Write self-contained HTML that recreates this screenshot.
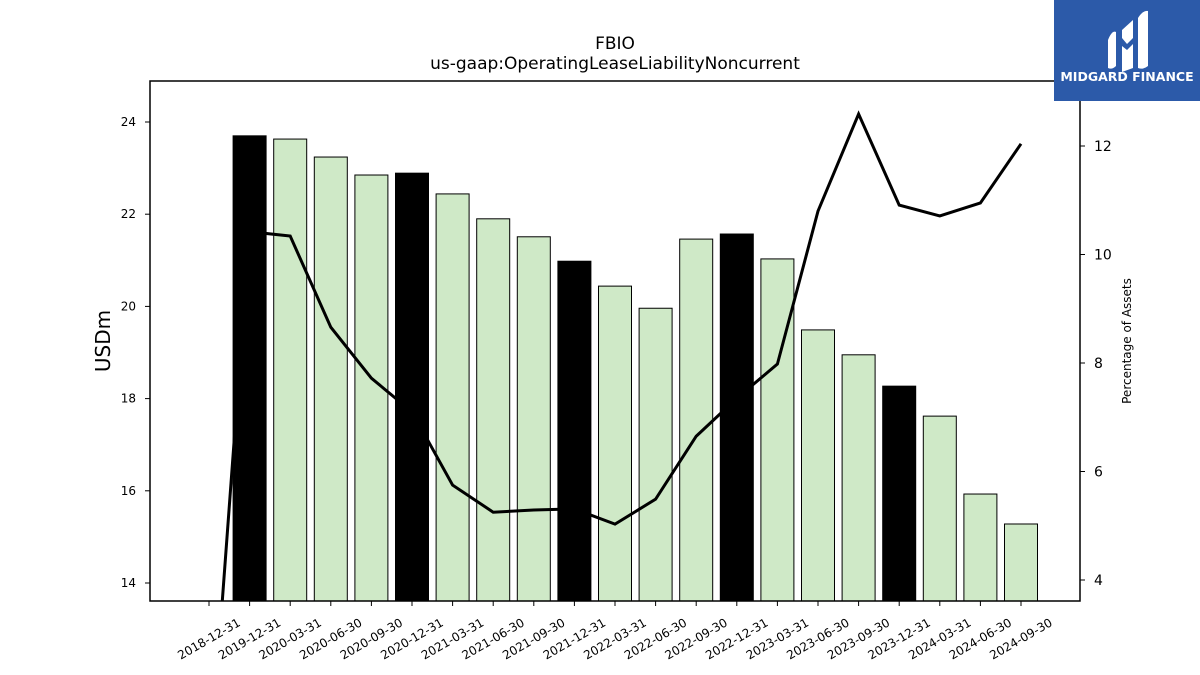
<!DOCTYPE html>
<html><head><meta charset="utf-8"><style>
html,body{margin:0;padding:0;background:#fff;overflow:hidden;width:1200px;height:675px;font-family:"Liberation Sans",sans-serif;}
svg{display:block;}
svg text{font-family:"DejaVu Sans","Liberation Sans",sans-serif;}
</style></head><body>
<svg id="chart" width="1200" height="675" viewBox="0 0 1200 675" xmlns="http://www.w3.org/2000/svg">
<text x="615" y="49" text-anchor="middle" font-size="17">FBIO</text>
<text x="615" y="69" text-anchor="middle" font-size="17">us-gaap:OperatingLeaseLiabilityNoncurrent</text>
<g id="bars"></g>
<g id="line"></g>
<rect x="150" y="81" width="930" height="520" fill="none" stroke="#000" stroke-width="1.5"/>
<g id="axes"></g>
<text transform="translate(110,341) rotate(-90)" text-anchor="middle" font-size="20">USDm</text>
<text transform="translate(1131,341) rotate(-90)" text-anchor="middle" font-size="12">Percentage of Assets</text>
<g>
<rect x="1054" y="0" width="146" height="101" fill="#2c5aa9"/>
<path d="M1108 40 Q1112 30 1116 32 L1116 66 Q1112 70 1108 68 Z" fill="#fff"/>
<path d="M1122 30 L1133 20 L1133 38 L1127 44 L1122 38 Z M1122 46 L1127 50 L1133 44 L1133 68 L1122 72 Z" fill="#fff"/>
<path d="M1138 18 Q1143 10 1148 11 L1148 66 Q1143 70 1138 68 Z" fill="#fff"/>
<text x="1127" y="81" text-anchor="middle" font-size="12.5" font-weight="bold" fill="#fff" font-family="Liberation Sans">MIDGARD FINANCE</text>
</g>
</svg>
<script>
const categories=["2018-12-31","2019-12-31","2020-03-31","2020-06-30","2020-09-30","2020-12-31","2021-03-31","2021-06-30","2021-09-30","2021-12-31","2022-03-31","2022-06-30","2022-09-30","2022-12-31","2023-03-31","2023-06-30","2023-09-30","2023-12-31","2024-03-31","2024-06-30","2024-09-30"];
const barValues=[null,23.70,23.63,23.24,22.85,22.89,22.44,21.90,21.51,20.98,20.44,19.96,21.46,21.57,21.03,19.49,18.95,18.27,17.62,15.93,15.28];
const annualFlags=[1,1,0,0,0,1,0,0,0,1,0,0,0,1,0,0,0,1,0,0,0];
const pctValues=[0.3,10.42,10.34,8.66,7.72,7.10,5.75,5.25,5.29,5.31,5.03,5.49,6.65,7.35,7.98,10.80,12.59,10.91,10.71,10.95,12.04];
const leftTicks=[14,16,18,20,22,24];
const rightTicks=[4,6,8,10,12];
const NS="http://www.w3.org/2000/svg";
const x=i=>209+i*40.6;
const yL=v=>583-(v-14)*46.1;
const yR=v=>580-(v-4)*54.25;
const bars=document.getElementById('bars'),axes=document.getElementById('axes'),lineG=document.getElementById('line');
function mk(t,a,p){const e=document.createElementNS(NS,t);for(const k in a)e.setAttribute(k,a[k]);p.appendChild(e);return e;}
barValues.forEach((v,i)=>{if(v==null)return;
 const r=mk('rect',{x:x(i)-16.5,y:yL(v),width:33,height:601-yL(v),fill:annualFlags[i]?'#000':'#cfe9c7',stroke:'#000','stroke-width':1},bars);
 
 
});
const cp=mk('clipPath',{id:'clip'},lineG);mk('rect',{x:150,y:81,width:930,height:520},cp);
const pl=mk('polyline',{points:pctValues.map((v,i)=>x(i)+','+yR(v)).join(' '),fill:'none',stroke:'#000','stroke-width':3,'clip-path':'url(#clip)'},lineG);


categories.forEach((c,i)=>{
 mk('line',{x1:x(i),x2:x(i),y1:601,y2:606,stroke:'#000'},axes);
 const t=mk('text',{x:0,y:4,'font-size':12,'text-anchor':'middle',transform:`translate(${x(i)},${639}) rotate(-30)`},axes);
 t.textContent=c;
 
 
});
leftTicks.forEach(v=>{
 mk('line',{x1:145,x2:150,y1:yL(v),y2:yL(v),stroke:'#000'},axes);
 const t=mk('text',{x:136,y:yL(v)+4,'font-size':12,'text-anchor':'end'},axes);
 t.textContent=v;
 
 
});
rightTicks.forEach(v=>{
 mk('line',{x1:1080,x2:1085,y1:yR(v),y2:yR(v),stroke:'#000'},axes);
 const t=mk('text',{x:1094,y:yR(v)+5,'font-size':14},axes);
 t.textContent=v;
 
 
});
</script>
</body></html>
